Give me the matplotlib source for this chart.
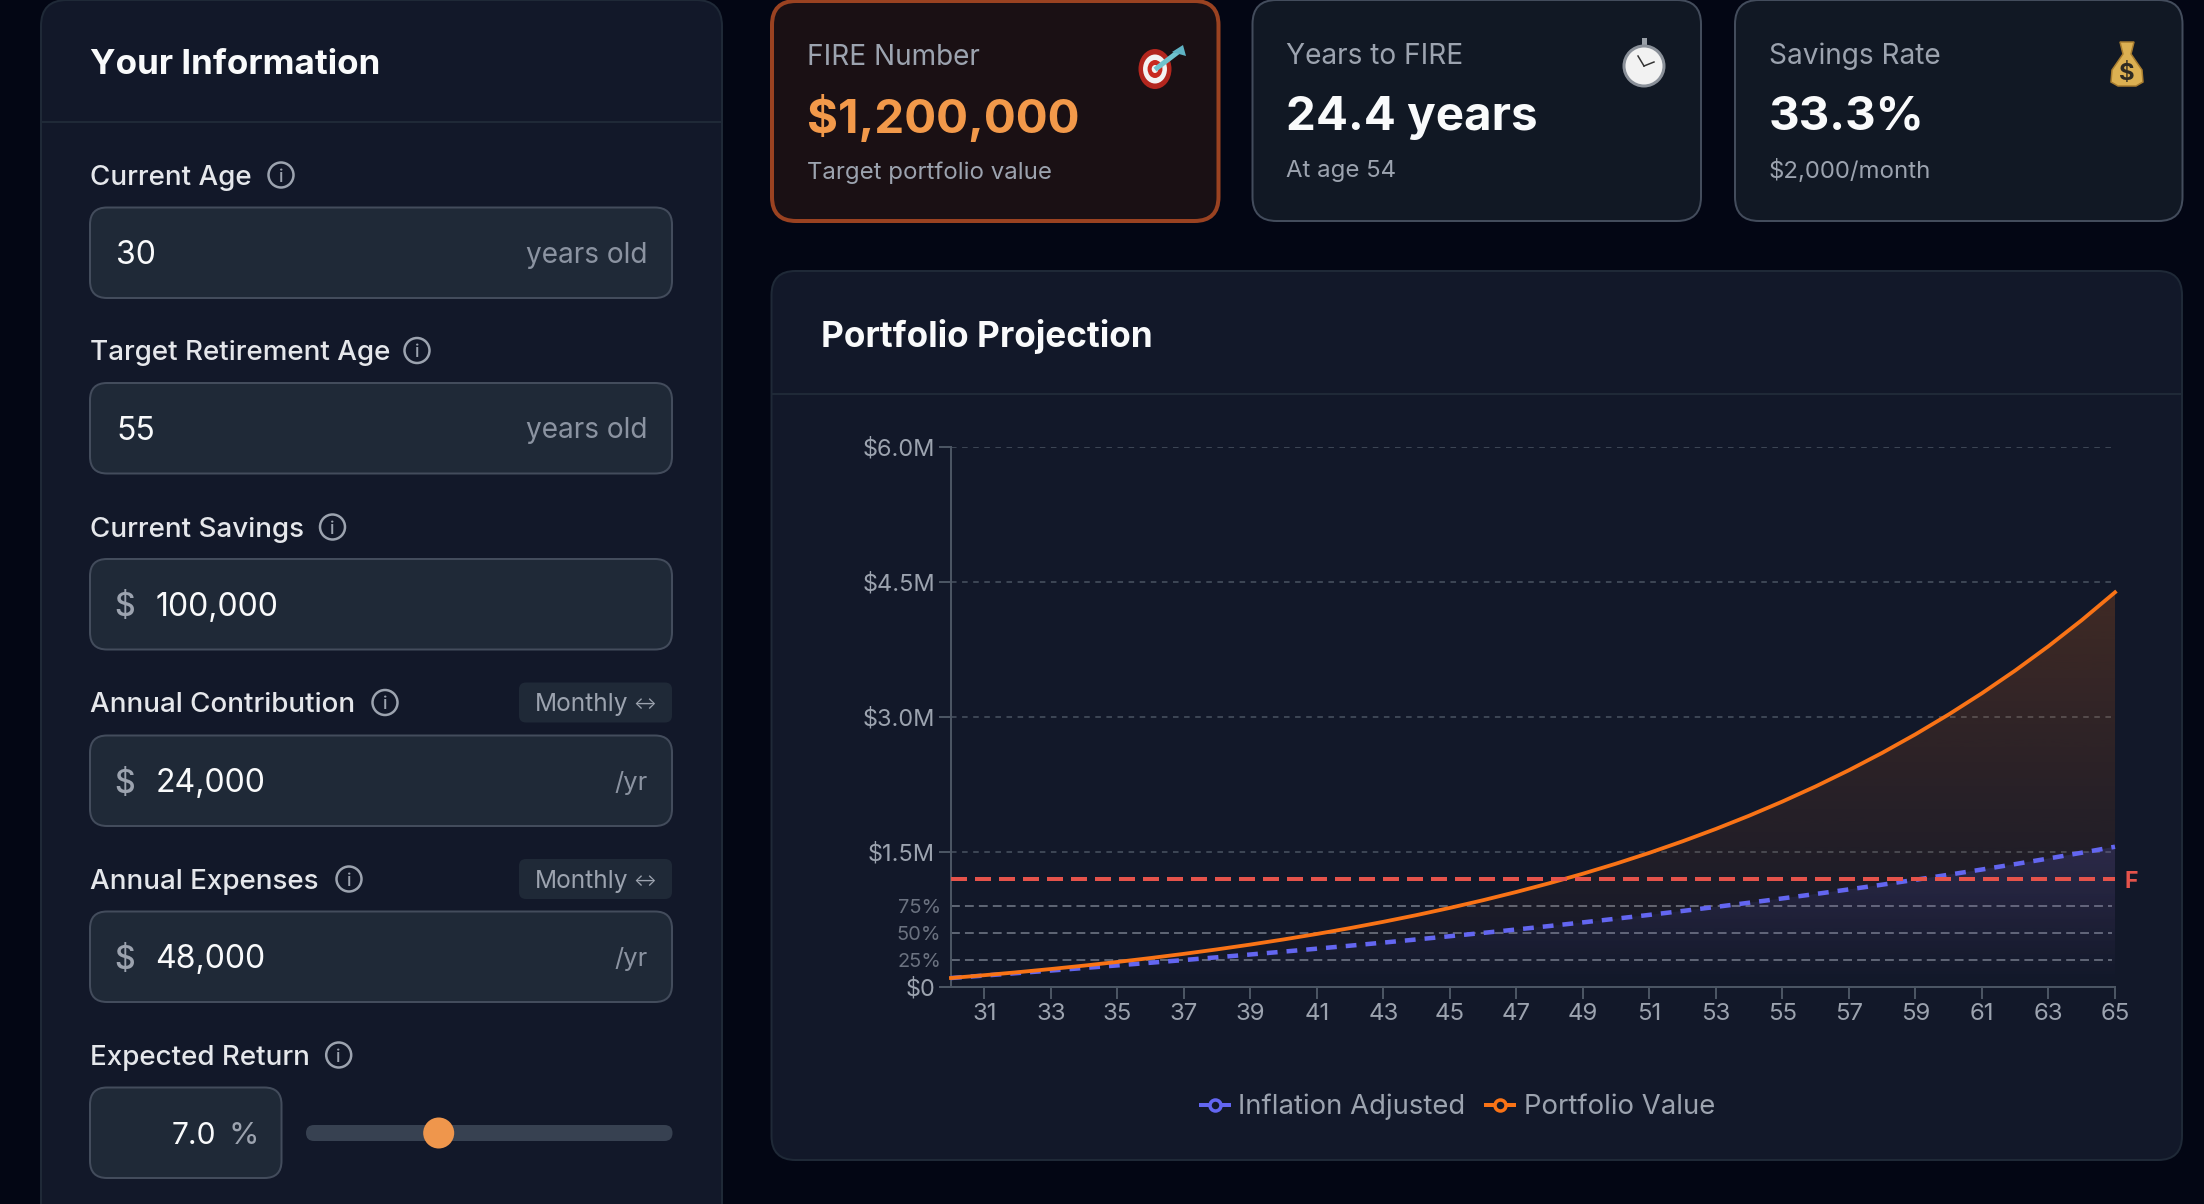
import matplotlib
matplotlib.use('Agg')
import matplotlib.pyplot as plt
import numpy as np
from matplotlib.lines import Line2D
from matplotlib.patches import Circle, Ellipse, FancyBboxPatch, Polygon, PathPatch
from matplotlib.path import Path

plt.rcParams['font.family'] = ['Inter', 'DejaVu Sans']

# chart data
ages = list(range(30, 66))
portfolio_value = [100000, 131000, 164170, 199662, 237638, 278273, 321752, 368275, 418054,
                   471318, 528310, 589292, 654542, 724360, 799065, 879000, 964530, 1056047,
                   1153970, 1258748, 1370860, 1490820, 1619177, 1756520, 1903476, 2060720,
                   2228970, 2408998, 2601628, 2807742, 3028284, 3264264, 3516762, 3786935,
                   4076020, 4385341]
inflation_adjusted = [100000, 127184, 154746, 182720, 211140, 240040, 269456, 299435, 330013,
                      361224, 393110, 425720, 459084, 493260, 528276, 564200, 601060, 638940,
                      677850, 717850, 759020, 801390, 845040, 890010, 936380, 984200, 1033560,
                      1084500, 1137120, 1191440, 1247590, 1305650, 1365680, 1427790, 1492000,
                      1558450]
fire_number = 1200000
y_ticks = [0, 1500000, 3000000, 4500000, 6000000]
y_labels = ['$0', '$1.5M', '$3.0M', '$4.5M', '$6.0M']
pct_ticks = [300000, 600000, 900000]
pct_labels = ['25%', '50%', '75%']
x_ticks = list(range(31, 66, 2))

# form contents
field_labels = ['Current Age', 'Target Retirement Age', 'Current Savings',
                'Annual Contribution', 'Annual Expenses']
field_values = ['30', '55', '100,000', '24,000', '48,000']
field_suffix = ['years old', 'years old', '', '/yr', '/yr']
field_dollar = [False, False, True, True, True]
field_monthly = [False, False, False, True, True]

# stat cards
card_titles = ['FIRE Number', 'Years to FIRE', 'Savings Rate']
card_values = ['$1,200,000', '24.4 years', '33.3%']
card_notes = ['Target portfolio value', 'At age 54', '$2,000/month']

BG = '#030614'
PANEL = '#121829'
INPUT = '#1f2937'
BORDER = '#434c5c'
ORANGE = '#f97316'
INDIGO = '#6366f1'
W, H = 2204, 1204


def px(size):
    return size * 0.72


fig = plt.figure(figsize=(W / 100, H / 100), dpi=100, facecolor=BG)
bg = fig.add_axes([0, 0, 1, 1])
bg.set_xlim(0, W)
bg.set_ylim(H, 0)
bg.axis('off')


def box(x0, y0, x1, y1, r, fc, ec=None, lw=2, z=1):
    patch = FancyBboxPatch((x0, y0), x1 - x0, y1 - y0, boxstyle=f'round,pad=0,rounding_size={r}',
                           fc=fc, ec=ec if ec else 'none', lw=px(lw), zorder=z)
    bg.add_patch(patch)
    return patch


def label(x, y, s, size, color, weight='normal', ha='left', z=5):
    return bg.text(x, y, s, fontsize=px(size), color=color, fontweight=weight, ha=ha,
                   va='center_baseline', zorder=z)


def info_icon(x, y):
    bg.add_patch(Circle((x, y), 12.5, fc='none', ec='#9ca3af', lw=px(2.5), zorder=5))
    label(x, y, 'i', 18, '#9ca3af', 'medium', ha='center')


# left panel
box(41, 0, 722, 1300, 26, PANEL, '#1f2937')
bg.plot([41, 722], [122, 122], color='#1f2937', lw=px(2), zorder=2)
label(90, 61, 'Your Information', 35, '#f9fafb', 'bold')

field_tops = [207.5, 383, 559, 735.5, 911.5]
label_ys = [175, 350.5, 527, 702.5, 879]
icon_xs = [281, 417, 332.5, 385, 349]
for i in range(5):
    top = field_tops[i]
    box(90, top, 672, top + 90.5, 17, INPUT, BORDER)
    label(90, label_ys[i], field_labels[i], 27.8, '#e5e7eb', 'medium')
    info_icon(icon_xs[i], label_ys[i])
    mid = top + 45
    if field_dollar[i]:
        label(114, mid, '$', 32, '#9ca3af', 'medium')
        label(155.5, mid, field_values[i], 32, '#f9fafb')
    else:
        label(116, mid, field_values[i], 32, '#f9fafb')
    if field_suffix[i]:
        label(648, mid, field_suffix[i], 28 if len(field_suffix[i]) > 3 else 25.5, '#8b93a1', ha='right')
    if field_monthly[i]:
        y = label_ys[i]
        box(519, y - 20, 672, y + 20, 7, '#1f2937')
        label(535, y, 'Monthly', 24.5, '#9ca3af')
        label(645, y, '↔', 17, '#9ca3af', ha='center')

label(90, 1055, 'Expected Return', 27.8, '#e5e7eb', 'medium')
info_icon(338.7, 1055)
box(90, 1087.5, 281.5, 1178, 17, INPUT, BORDER)
label(216, 1133, '7.0', 30, '#f9fafb', ha='right')
label(229, 1133, '%', 31, '#9ca3af')
box(306, 1125, 672.5, 1141, 8, '#374151')
bg.add_patch(Circle((438.7, 1133), 15.5, fc='#ef964c', ec='none', zorder=6))

# stat cards
card_xs = [(772, 1218.5), (1252.5, 1701), (1735, 2182.5)]
for i, (x0, x1) in enumerate(card_xs):
    if i == 0:
        box(x0, 1, x1, 221, 24, '#1a1014', '#9a4221', 4)
    else:
        box(x0, 0, x1, 221, 24, '#111824', BORDER, 2)
    tx = x0 + 35 if i == 0 else x0 + 34
    top_off = 1 if i == 0 else 0
    label(tx, 53.5 + top_off, card_titles[i], 28, '#9ca3af')
    label(tx, 112.5 + top_off, card_values[i], 47.5, '#f2994a' if i == 0 else '#f9fafb', 'bold')
    label(tx, 168 + 2.5 * top_off, card_notes[i], 24, '#9ca3af')

# emoji in the cards, drawn by hand
for r, c in zip([20, 14.5, 9, 4], ['#b3261e', '#f3f3f3', '#c92a20', '#f3f3f3']):
    bg.add_patch(Ellipse((1155, 69), r * 1.65, r * 2, fc=c, ec='none', zorder=5))
bg.plot([1157, 1178], [68, 52], color='#6fc3cf', lw=px(5), zorder=6)
bg.add_patch(Polygon([[1172, 52], [1183, 45], [1186, 56]], fc='#5fb3c4', ec='none', zorder=6))

bg.plot([1644, 1644], [40, 50], color='#9aa0a8', lw=px(5), zorder=5)
bg.add_patch(Circle((1644, 66), 20, fc='#f2f2f2', ec='#8a9099', lw=px(3), zorder=6))
bg.plot([1644, 1638], [66, 56], color='#333333', lw=px(1.5), zorder=7)
bg.plot([1644, 1654], [66, 62], color='#333333', lw=px(1.5), zorder=7)

bag = Polygon([[2120, 42], [2134, 42], [2131, 54], [2142, 70], [2143, 82], [2136, 86],
               [2118, 86], [2111, 82], [2112, 70], [2123, 54]], fc='#dcb052', ec='#a97d2f',
              lw=px(1.5), zorder=5)
bg.add_patch(bag)
label(2127, 71, '$', 24, '#2d2a22', 'bold', ha='center', z=6)

# chart panel
box(771.5, 271, 2182, 1160, 24, PANEL, '#1f2937')
bg.plot([771.5, 2182], [394, 394], color='#1f2937', lw=px(2), zorder=2)
label(821, 333, 'Portfolio Projection', 35.2, '#f9fafb', 'bold')

ax = fig.add_axes([951 / W, 1 - 987 / H, (2115 - 951) / W, 540 / H])
ax.patch.set_alpha(0)
ax.set_xlim(30, 65)
ax.set_ylim(0, 6000000)
for side in ['top', 'right']:
    ax.spines[side].set_visible(False)
for side in ['left', 'bottom']:
    ax.spines[side].set_color('#4b5563')
    ax.spines[side].set_linewidth(px(2))

ax.set_xticks(x_ticks)
ax.set_yticks(y_ticks, labels=y_labels)
ax.set_yticks(pct_ticks, labels=pct_labels, minor=True)
ax.tick_params(axis='x', length=px(12), width=px(2), color='#4b5563', labelcolor='#9ca3af',
               labelsize=px(24), pad=px(3.5))
ax.tick_params(axis='y', which='major', length=px(12), width=px(2), color='#4b5563',
               labelcolor='#9ca3af', labelsize=px(23.5), pad=px(4))
ax.tick_params(axis='y', which='minor', length=0, labelcolor='#6b7280', labelsize=px(20),
               pad=px(10))

for v in y_ticks[1:]:
    ax.plot([30, 64.9], [v, v], color='#4b5563', lw=px(1.5), dashes=(3.7, 3.7), zorder=1)
for v in pct_ticks:
    ax.plot([30, 64.9], [v, v], color='#6b7280', lw=px(1.7), dashes=(5.2, 3), zorder=1)


def gradient_fill(values, color, top_alpha):
    # vertical fade from the series maximum down to zero, clipped to the area under the line
    top = max(values)
    rgba = np.zeros((256, 1, 4))
    rgba[:, 0, :3] = matplotlib.colors.to_rgb(color)
    rgba[:, 0, 3] = np.linspace(top_alpha, 0, 256)
    img = ax.imshow(rgba, extent=(30, 65, 0, top), aspect='auto', origin='upper', zorder=2)
    verts = [(30, 0)] + list(zip(ages, values)) + [(65, 0), (30, 0)]
    clip = PathPatch(Path(verts), transform=ax.transData, fc='none', ec='none')
    ax.add_patch(clip)
    img.set_clip_path(clip)


gradient_fill(portfolio_value, ORANGE, 0.2)
gradient_fill(inflation_adjusted, INDIGO, 0.17)
ax.set_xlim(30, 65)
ax.set_ylim(0, 6000000)

ax.plot(ages, inflation_adjusted, color=INDIGO, lw=px(4.5), dashes=(2.4, 2), zorder=3, clip_on=False)
ax.plot(ages, portfolio_value, color=ORANGE, lw=px(3.8), zorder=4, clip_on=False)
ax.plot([30, 65], [fire_number, fire_number], color='#e5534b', lw=px(4), dashes=(4, 2), zorder=5)
label(2125, 879, 'F', 23, '#e5534b', 'bold')

# legend built from the series styling
handles = [
    Line2D([], [], color=INDIGO, lw=px(4), marker='o', ms=px(11), mfc=PANEL, mec=INDIGO, mew=px(3.5)),
    Line2D([], [], color=ORANGE, lw=px(4), marker='o', ms=px(11), mfc=PANEL, mec=ORANGE, mew=px(3.5)),
]
leg = fig.legend(handles, ['Inflation Adjusted', 'Portfolio Value'], loc='center',
                 bbox_to_anchor=(1458 / W, 1 - 1107 / H), ncol=2, frameon=False,
                 fontsize=px(27.5), labelcolor='#9ca3af', handlelength=1, handletextpad=0.36,
                 columnspacing=0.75, borderpad=0)

fig.savefig('out.png', dpi=100, facecolor=BG)
